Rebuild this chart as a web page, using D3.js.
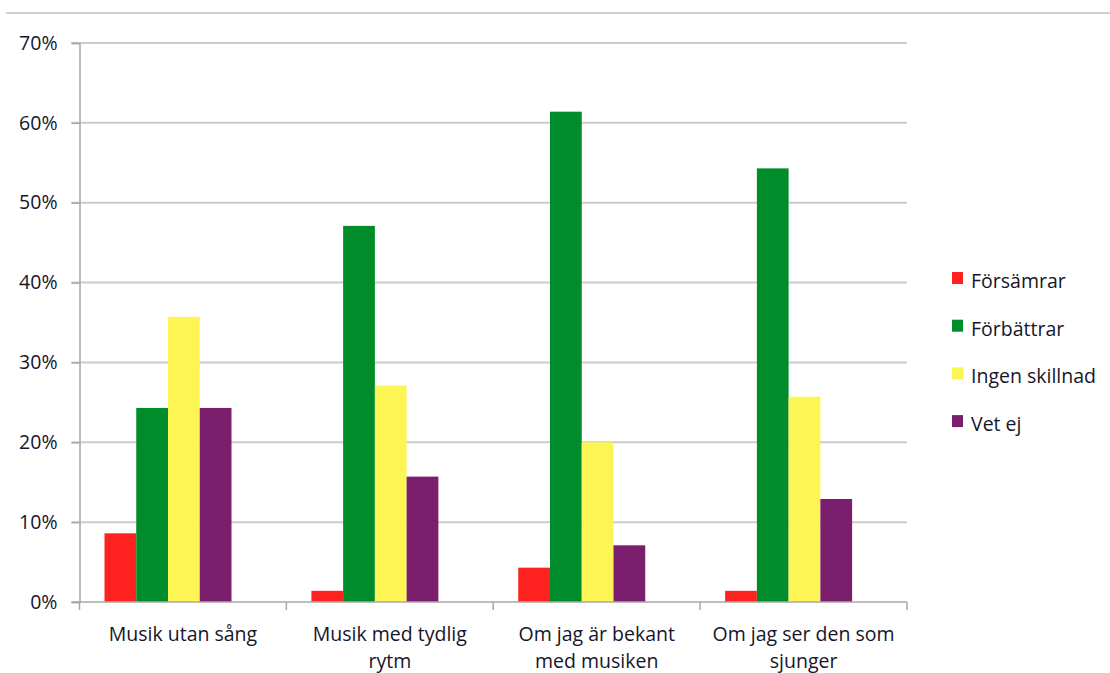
<!DOCTYPE html>
<html>
<head>
<meta charset="utf-8">
<script src="https://cdn.jsdelivr.net/npm/d3@7"></script>
<style>
  html, body { margin: 0; padding: 0; background: #fff; }
  svg { display: block; }
  text { font-family: "Open Sans", "Liberation Sans", sans-serif; fill: #16162a; }
</style>
</head>
<body>
<svg id="chart" width="1110" height="673"></svg>
<script>
// Survey answers: how music affects the respondent, per situation (share of answers)
const categories = [
  "Musik utan sång",
  "Musik med tydlig\nrytm",
  "Om jag är bekant\nmed musiken",
  "Om jag ser den som\nsjunger"
];
const seriesNames = ["Försämrar", "Förbättrar", "Ingen skillnad", "Vet ej"];
const seriesColors = ["#fe2320", "#008c2a", "#fdf553", "#7b1e6e"];
const forsamrar   = [8.6, 1.4, 4.3, 1.4];
const forbattrar  = [24.3, 47.1, 61.4, 54.3];
const ingenSkill  = [35.7, 27.1, 20.0, 25.7];
const vetEj       = [24.3, 15.7, 7.1, 12.9];
const seriesValues = [forsamrar, forbattrar, ingenSkill, vetEj];
const yTicks = [0, 10, 20, 30, 40, 50, 60, 70];

const FONT = 19.5;
const svg = d3.select("#chart");
const plot = { left: 79.5, right: 907, top: 43, bottom: 602 };

// header rule
svg.append("line")
  .attr("x1", 6).attr("x2", 1110).attr("y1", 13).attr("y2", 13)
  .attr("stroke", "#cfcfcf").attr("stroke-width", 2);

const x = d3.scaleBand().domain(categories).range([plot.left, plot.right]);
const inner = d3.scaleBand().domain(seriesNames).range([25, 25 + 127]);
const y = d3.scaleLinear().domain([0, 70]).range([plot.bottom, plot.top]);

// horizontal gridlines
svg.append("g")
  .selectAll("line")
  .data(yTicks.filter(t => t > 0))
  .join("line")
  .attr("x1", plot.left - 8).attr("x2", plot.right)
  .attr("y1", d => y(d)).attr("y2", d => y(d))
  .attr("stroke", "#cbcbcb").attr("stroke-width", 2);

// y axis
const yAxis = d3.axisLeft(y).tickValues(yTicks).tickFormat(d => d + "%").tickSize(8).tickPadding(14);
const gy = svg.append("g").attr("transform", `translate(${plot.left},0)`).call(yAxis);
gy.select(".domain").attr("stroke", "#a8a8a8").attr("stroke-width", 1.5);
gy.selectAll(".tick line").attr("stroke", "#a8a8a8").attr("stroke-width", 1.5);
gy.selectAll(".tick text")
  .attr("font-size", FONT).attr("font-family", "'Open Sans', sans-serif").attr("fill", "#16162a");

// bars
const groups = svg.append("g")
  .selectAll("g")
  .data(categories)
  .join("g")
  .attr("transform", d => `translate(${x(d)},0)`);

groups.selectAll("rect")
  .data((c, ci) => seriesNames.map((s, si) => ({ s, si, v: seriesValues[si][ci] })))
  .join("rect")
  .attr("x", d => inner(d.s))
  .attr("width", inner.bandwidth())
  .attr("y", d => y(d.v))
  .attr("height", d => y(0) - y(d.v))
  .attr("fill", d => seriesColors[d.si]);

// x axis
const xAxisLine = svg.append("g");
xAxisLine.append("line")
  .attr("x1", plot.left - 8).attr("x2", plot.right).attr("y1", plot.bottom).attr("y2", plot.bottom)
  .attr("stroke", "#a8a8a8").attr("stroke-width", 1.5);
xAxisLine.selectAll("line.tk")
  .data(categories.map(c => x(c)).concat([plot.right]))
  .join("line")
  .attr("class", "tk")
  .attr("x1", d => d).attr("x2", d => d)
  .attr("y1", plot.bottom).attr("y2", plot.bottom + 8)
  .attr("stroke", "#a8a8a8").attr("stroke-width", 1.5);

// category labels
svg.append("g")
  .selectAll("text")
  .data(categories)
  .join("text")
  .attr("text-anchor", "middle")
  .attr("font-size", FONT)
  .attr("transform", d => `translate(${x(d) + x.bandwidth() / 2},641)`)
  .selectAll("tspan")
  .data(d => d.split("\n"))
  .join("tspan")
  .attr("x", 0)
  .attr("dy", (d, i) => i === 0 ? 0 : 27)
  .text(d => d);

// legend
const legend = svg.append("g")
  .selectAll("g")
  .data(seriesNames)
  .join("g")
  .attr("transform", (d, i) => `translate(952,${272 + i * 47.7})`);
legend.append("rect")
  .attr("width", 11).attr("height", 12)
  .attr("fill", (d, i) => seriesColors[i]);
legend.append("text")
  .attr("x", 19).attr("y", 16)
  .attr("font-size", FONT)
  .text(d => d);
</script>
</body>
</html>
